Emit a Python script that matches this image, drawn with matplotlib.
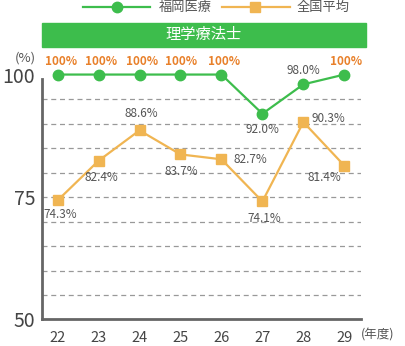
import matplotlib
matplotlib.use("Agg")
import matplotlib.pyplot as plt
from matplotlib.patches import Rectangle
from matplotlib.lines import Line2D

plt.rcParams['font.family'] = ['Noto Sans CJK JP', 'DejaVu Sans']

years = ['22', '23', '24', '25', '26', '27', '28', '29']
fukuoka = [100, 100, 100, 100, 100, 92.0, 98.0, 100]
national = [74.3, 82.4, 88.6, 83.7, 82.7, 74.1, 90.3, 81.4]
fukuoka_labels = ['100%', '100%', '100%', '100%', '100%', '92.0%', '98.0%', '100%']
national_labels = ['74.3%', '82.4%', '88.6%', '83.7%', '82.7%', '74.1%', '90.3%', '81.4%']

green = '#3dbd4c'
orange = '#f0b552'
label_orange = '#e8802a'
gray = '#555555'

fig = plt.figure(figsize=(4.05, 3.46), dpi=100)
ax = fig.add_axes([0.1037, 0.0766, 0.787, 0.715])

x = list(range(len(years)))
ax.plot(x, national, color=orange, lw=1.6, marker='s', ms=7, mec=orange, mfc=orange, clip_on=False, zorder=3)
ax.plot(x, fukuoka, color=green, lw=1.6, marker='o', ms=7.5, mec=green, mfc=green, clip_on=False, zorder=4)

ax.set_xlim(-0.38, 7.4)
ax.set_ylim(50, 100.5)

for v in range(55, 100, 5):
    ax.axhline(v, color='#999999', lw=0.9, ls=(0, (4, 3)), zorder=1)

for s in ['top', 'right']:
    ax.spines[s].set_visible(False)
for s in ['left', 'bottom']:
    ax.spines[s].set_color('#666666')
    ax.spines[s].set_linewidth(2)
ax.spines['left'].set_bounds(50, 99)

ax.set_yticks([50, 75, 100])
ax.set_yticklabels(['50', '75', '100'], fontsize=14, color='#444444')
ax.tick_params(axis='y', length=0, pad=5)
ax.set_xticks(x)
ax.set_xticklabels(years, fontsize=10.5, color='#444444')
ax.tick_params(axis='x', length=0, pad=8)

# fukuoka labels
f_off = [(3, 13), (3, 13), (3, 13), (1, 13), (3, 13), (0, -16), (0, 14), (2, 13)]
for i, (v, t) in enumerate(zip(fukuoka, fukuoka_labels)):
    if t == '100%':
        ax.annotate(t, (i, v), xytext=f_off[i], textcoords='offset pixels',
                    ha='center', va='center', fontsize=8.5, fontweight='bold', color=label_orange)
    else:
        ax.annotate(t, (i, v), xytext=f_off[i], textcoords='offset pixels',
                    ha='center', va='center', fontsize=8.5, color=gray)

n_off = [(3, -14), (3, -17), (2, 17), (1, -17), (12, 0), (2, -17), (8, 4), (-20, -12)]
n_ha = ['center', 'center', 'center', 'center', 'left', 'center', 'left', 'center']
for i, (v, t) in enumerate(zip(national, national_labels)):
    ax.annotate(t, (i, v), xytext=n_off[i], textcoords='offset pixels',
                ha=n_ha[i], va='center', fontsize=8.5, color=gray)

fig.text(25 / 405, 1 - 58 / 346, '(%)', fontsize=9.5, color=gray, ha='center', va='center')
fig.text(378 / 405, 1 - 335 / 346, '(年度)', fontsize=9, color=gray, ha='center', va='center')

# title banner
fig.patches.append(Rectangle((42 / 405, 1 - 47 / 346), 324 / 405, 24 / 346,
                             transform=fig.transFigure, color=green, zorder=0))
fig.text(204 / 405, 1 - 35 / 346, '理学療法士', fontsize=11, color='white', ha='center', va='center')

# legend
ly = 1 - 7 / 346
fig.add_artist(Line2D([83 / 405, 150 / 405], [ly, ly], color=green, lw=1.6))
fig.add_artist(Line2D([117 / 405], [ly], color=green, marker='o', ms=7.5))
fig.text(159 / 405, ly, '福岡医療', fontsize=9.5, color=gray, va='center')
fig.add_artist(Line2D([222 / 405, 290 / 405], [ly, ly], color=orange, lw=1.6))
fig.add_artist(Line2D([255 / 405], [ly], color=orange, marker='s', ms=7))
fig.text(297 / 405, ly, '全国平均', fontsize=9.5, color=gray, va='center')

fig.savefig('out.png', dpi=100)
